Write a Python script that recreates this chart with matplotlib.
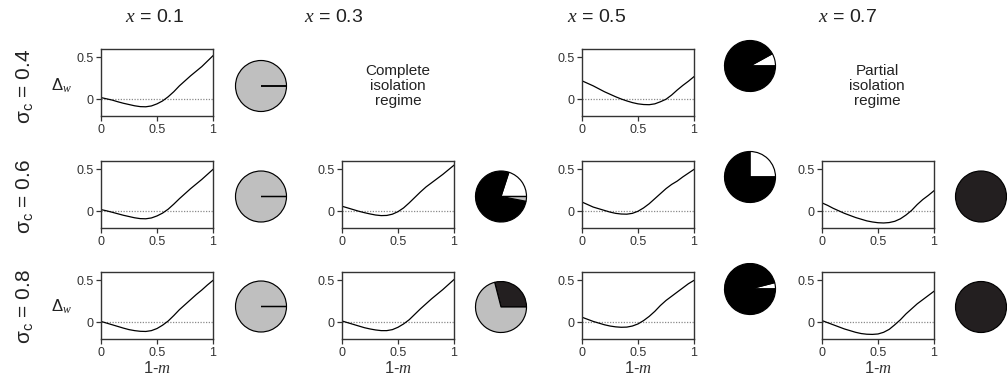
import matplotlib
matplotlib.use("Agg")
import matplotlib.pyplot as plt

plt.rcParams['font.family'] = ['Liberation Sans', 'DejaVu Sans']
plt.rcParams['mathtext.fontset'] = 'custom'
plt.rcParams['mathtext.rm'] = 'Liberation Sans'
plt.rcParams['mathtext.it'] = 'Liberation Serif:italic'
plt.rcParams['mathtext.bf'] = 'Liberation Sans:bold'

# ---------------------------------------------------------------- data
x_levels = ["0.1", "0.3", "0.5", "0.7"]
sigma_levels = ["0.4", "0.6", "0.8"]

one_minus_m = [0.0, 0.05, 0.1, 0.15, 0.2, 0.25, 0.3, 0.35, 0.4, 0.45, 0.5,
               0.55, 0.6, 0.65, 0.7, 0.75, 0.8, 0.85, 0.9, 0.95, 1.0]

# fitness difference Delta_w along 1-m, one list per (sigma_c, x) panel
dw_s04_x01 = [0.02, 0.005, -0.01, -0.03, -0.048, -0.063, -0.078, -0.088, -0.09, -0.08, -0.055,
              -0.02, 0.03, 0.09, 0.16, 0.22, 0.28, 0.335, 0.39, 0.455, 0.52]
dw_s04_x05 = [0.22, 0.19, 0.16, 0.125, 0.09, 0.06, 0.03, 0.003, -0.02, -0.04, -0.055,
              -0.063, -0.065, -0.055, -0.03, 0.0, 0.05, 0.11, 0.165, 0.215, 0.27]
dw_s06_x01 = [0.02, 0.005, -0.012, -0.03, -0.048, -0.063, -0.078, -0.088, -0.09, -0.08, -0.056,
              -0.022, 0.025, 0.085, 0.15, 0.21, 0.27, 0.325, 0.38, 0.44, 0.5]
dw_s06_x03 = [0.06, 0.04, 0.02, 0.0, -0.017, -0.032, -0.045, -0.052, -0.05, -0.035, -0.005,
              0.04, 0.1, 0.165, 0.23, 0.29, 0.34, 0.39, 0.44, 0.495, 0.55]
dw_s06_x05 = [0.11, 0.08, 0.05, 0.03, 0.01, -0.01, -0.025, -0.033, -0.035, -0.025, 0.0,
              0.04, 0.09, 0.15, 0.21, 0.27, 0.32, 0.36, 0.41, 0.455, 0.5]
dw_s06_x07 = [0.1, 0.07, 0.035, 0.005, -0.025, -0.05, -0.075, -0.095, -0.115, -0.128, -0.137,
              -0.14, -0.135, -0.12, -0.09, -0.045, 0.01, 0.08, 0.14, 0.19, 0.245]
dw_s08_x01 = [0.01, -0.01, -0.03, -0.05, -0.07, -0.088, -0.1, -0.108, -0.11, -0.1, -0.075,
              -0.035, 0.015, 0.08, 0.15, 0.21, 0.27, 0.33, 0.385, 0.445, 0.5]
dw_s08_x03 = [0.015, -0.005, -0.025, -0.045, -0.065, -0.08, -0.092, -0.1, -0.1, -0.088, -0.06,
              -0.02, 0.03, 0.095, 0.16, 0.22, 0.28, 0.335, 0.39, 0.45, 0.51]
dw_s08_x05 = [0.06, 0.035, 0.01, -0.01, -0.03, -0.045, -0.055, -0.06, -0.058, -0.045, -0.02,
              0.02, 0.07, 0.13, 0.2, 0.26, 0.31, 0.36, 0.41, 0.46, 0.5]
dw_s08_x07 = [0.02, -0.005, -0.03, -0.055, -0.08, -0.1, -0.12, -0.135, -0.143, -0.145, -0.14,
              -0.12, -0.085, -0.03, 0.03, 0.1, 0.16, 0.22, 0.27, 0.32, 0.37]

# outcome shares shown in the pies: [dark, white, black, grey]
pie_labels = ["dark", "white", "black", "grey"]
pie_colors = ["#231f20", "#ffffff", "#000000", "#bfbfbf"]
pie_s04_x01 = [0.0, 0.0, 0.0, 1.0]
pie_s04_x05 = [0.0, 0.08, 0.92, 0.0]
pie_s06_x01 = [0.0, 0.0, 0.0, 1.0]
pie_s06_x03 = [0.0, 0.2, 0.77, 0.03]
pie_s06_x05 = [0.0, 0.25, 0.75, 0.0]
pie_s06_x07 = [1.0, 0.0, 0.0, 0.0]
pie_s08_x01 = [0.0, 0.0, 0.0, 1.0]
pie_s08_x03 = [0.29, 0.0, 0.0, 0.71]
pie_s08_x05 = [0.0, 0.04, 0.96, 0.0]
pie_s08_x07 = [1.0, 0.0, 0.0, 0.0]

x_ticks = [0, 0.5, 1]
x_tick_labels = ["0", "0.5", "1"]
y_ticks = [0, 0.5]
y_tick_labels = ["0", "0.5"]

regime_notes = {(0, 1): "Complete\nisolation\nregime",
                (0, 3): "Partial\nisolation\nregime"}

# (row, col) -> series
curves = {
    (0, 0): dw_s04_x01, (0, 2): dw_s04_x05,
    (1, 0): dw_s06_x01, (1, 1): dw_s06_x03, (1, 2): dw_s06_x05, (1, 3): dw_s06_x07,
    (2, 0): dw_s08_x01, (2, 1): dw_s08_x03, (2, 2): dw_s08_x05, (2, 3): dw_s08_x07,
}
pies = {
    (0, 0): pie_s04_x01, (0, 2): pie_s04_x05,
    (1, 0): pie_s06_x01, (1, 1): pie_s06_x03, (1, 2): pie_s06_x05, (1, 3): pie_s06_x07,
    (2, 0): pie_s08_x01, (2, 1): pie_s08_x03, (2, 2): pie_s08_x05, (2, 3): pie_s08_x07,
}

# ---------------------------------------------------------------- layout (pixels)
W, H = 1007, 378
fig = plt.figure(figsize=(W / 100, H / 100), dpi=100)


def px_axes(left, top, width, height):
    return fig.add_axes([left / W, 1 - (top + height) / H, width / W, height / H])


def px_text(x, y, s, **kw):
    return fig.text(x / W, 1 - y / H, s, **kw)


col_left = [101, 342, 582, 822]
row_top = [49, 161, 272]
AX_W, AX_H = 112, 67
pie_center_x = [261, 501, 750, 981]
pie_center_y = {0: [86, 196.5, 306.5], 1: [86, 196.5, 307], 2: [66, 177, 289],
                3: [86, 196.5, 307]}
PIE_R = 25.5
title_x = [155, 334, 597, 848]

INK = "#333333"

for (r, c), series in curves.items():
    ax = px_axes(col_left[c], row_top[r], AX_W, AX_H)
    ax.axhline(0, color="#8a8a8a", linestyle=(0, (1, 1.2)), linewidth=0.9, zorder=1)
    ax.plot(one_minus_m, series, color="black", linewidth=0.9, zorder=2)
    ax.set_xlim(0, 1)
    ax.set_ylim(-0.2, 0.6)
    ax.set_xticks(x_ticks)
    ax.set_xticklabels(x_tick_labels)
    ax.set_yticks(y_ticks)
    ax.set_yticklabels(y_tick_labels)
    ax.tick_params(direction="out", length=3.5, width=0.9, color=INK,
                   labelcolor=INK, labelsize=9, pad=2)
    for sp in ax.spines.values():
        sp.set_color(INK)
        sp.set_linewidth(1.0)
    if r == 2:
        ax.set_xlabel("1-$m$", fontsize=12, color=INK, labelpad=1)

for (r, c), fracs in pies.items():
    cx, cy = pie_center_x[c], pie_center_y[c][r]
    size = 2 * PIE_R + 2
    ax = px_axes(cx - size / 2, cy - size / 2, size, size)
    wedges, _ = ax.pie(fracs, colors=pie_colors, startangle=0, counterclock=True, radius=1,
                       wedgeprops=dict(edgecolor="black", linewidth=0.85))
    # empty shares at the start angle leave a radial border on top;
    # the others would only repeat an existing slice edge
    filled = 0.0
    for w, f in zip(wedges, fracs):
        if f == 0:
            if filled == 0:
                w.set_zorder(3)
            else:
                w.set_visible(False)
        filled += f
    lim = size / (2 * PIE_R)
    ax.set_xlim(-lim, lim)
    ax.set_ylim(-lim, lim)
    ax.set_aspect("equal")
    ax.axis("off")

for c, xl in enumerate(x_levels):
    px_text(title_x[c], 18, "$x$ = " + xl, ha="center", va="center", fontsize=14, color="#222222")

for r, sl in enumerate(sigma_levels):
    cy = pie_center_y[0][r]
    px_text(25, cy, r"$\mathrm{\sigma_c}$ = " + sl, rotation=90, ha="center", va="center",
            fontsize=15, color="#222222")

for r in (0, 2):
    px_text(61, pie_center_y[0][r], r"$\mathrm{\Delta}_w$", ha="center", va="center",
            fontsize=12, color="#222222")

for (r, c), note in regime_notes.items():
    cx = col_left[c] + AX_W / 2 if c == 1 else 877
    px_text(cx, 86, note, ha="center", va="center", fontsize=11, color="#222222",
            linespacing=1.1)

fig.savefig("out.png", dpi=100)
